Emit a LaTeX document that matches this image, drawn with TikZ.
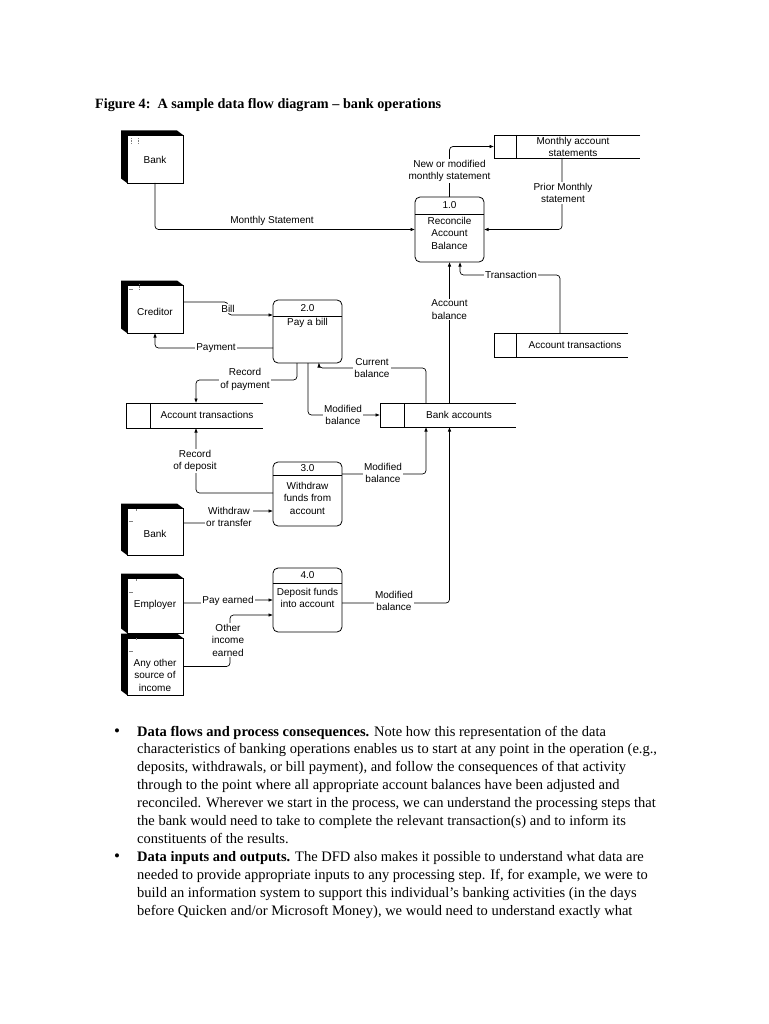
\documentclass[tikz,border=0pt]{standalone}
\usepackage{fontspec}
\setmainfont{Liberation Serif}
\newfontfamily\dfdfont{Liberation Sans}
\usetikzlibrary{arrows.meta,calc}
\newcommand\mkentity[4]{% name, cx, cy, height
  \node[entbox, minimum height=#4pt] (#1) at (#2,#3) {};
  \fill (#1.south west) -- (#1.north west) -- (#1.north east) -- ($(#1.north east)+(-6,-4.5)$) -- ($(#1.north west)+(-6,-4.5)$) -- ($(#1.south west)+(-6,-4.5)$) -- cycle;
  \draw[line width=0.8pt] (#1.south west) rectangle (#1.north east);
}
\newcommand\mkstore[6]{% name, cx, cy, w, h, divider offset
  \node[inner sep=0pt, outer sep=0pt, minimum width=#4pt, minimum height=#5pt] (#1) at (#2,#3) {};
  \draw[line width=0.8pt] (#1.north east) -- (#1.north west) -- (#1.south west) -- (#1.south east);
  \draw[line width=0.8pt] ([xshift=#6pt]#1.north west) -- ([xshift=#6pt]#1.south west);
}
\newcommand\mkproc[5]{% name, cx, cy, height, header offset
  \node[procbox, minimum height=#4pt] (#1) at (#2,#3) {};
  \draw[line width=0.8pt] ([yshift=-#5pt]#1.north west) -- ([yshift=-#5pt]#1.north east);
}
\begin{document}
\begin{tikzpicture}[x=1pt,y=-1pt,
  flow/.style={line width=0.7pt, rounded corners=3.5pt, -{Latex[length=4.5pt,width=3.6pt]}},
  lbl/.style={font=\dfdfont\fontsize{10}{12.5}\selectfont, fill=white, inner sep=1pt, align=center},
  txt/.style={font=\dfdfont\fontsize{10}{12.5}\selectfont, inner sep=0pt, align=center},
  procbox/.style={draw, line width=0.8pt, rounded corners=5pt, minimum width=69pt, inner sep=0pt, outer sep=0pt},
  entbox/.style={draw, line width=0.8pt, fill=white, minimum width=56pt, inner sep=0pt, outer sep=0pt},
  body/.style={font=\fontsize{14.5}{17.5}\selectfont, anchor=base west, inner sep=0pt},
  tinymark/.style={line width=0.4pt, gray}
]
\fill[white] (0,0) rectangle (768,1024);
\useasboundingbox (0,0) rectangle (768,1024);

% title
\node[anchor=base west, inner sep=0pt, font=\bfseries\fontsize{14.2}{16}\selectfont] (title) at (95,108.5)
  {Figure 4:\ \ A sample data flow diagram -- bank operations};

% external entities
\mkentity{E1}{155}{159}{48}
\mkentity{E2}{155}{309}{48}
\mkentity{E3}{155}{531.5}{47}
\mkentity{E4}{155}{605.5}{55}
\mkentity{E5}{155}{666.5}{57}
\node[txt] (E1t) at (155,160) {Bank};
\node[txt] (E2t) at (155,312) {Creditor};
\node[txt] (E3t) at (155,534) {Bank};
\node[txt] (E4t) at (155,605) {Employer};
\node[txt] (E5t) at (155,675) {Any other\\source of\\income};
% small marks in entity boxes
\draw[tinymark, dash pattern=on 0.8pt off 0.8pt] (131,138) -- (131,144) (138,138) -- (138,144);
\draw[tinymark] (129,289) -- (133,289);
\draw[tinymark, dash pattern=on 0.8pt off 0.8pt] (139,284) -- (139,289);
\draw[tinymark] (129,521) -- (133,521) (136,509) -- (136,511);
\draw[tinymark] (129,592) -- (133,592) (136,579) -- (136,581);
\draw[tinymark] (129,651) -- (133,651) (136,638) -- (136,640);

% data stores
\mkstore{MAS}{567}{146.5}{146}{23}{22}
\mkstore{ATR}{561}{345}{134}{24}{22}
\mkstore{BA}{448}{415}{136}{24}{24}
\mkstore{ATL}{194.5}{415.5}{137}{25}{24}
\node[txt] (MASt) at (573,147) {Monthly account\\statements};
\node[txt] (ATRt) at (575,345) {Account transactions};
\node[txt] (BAt) at (459,415) {Bank accounts};
\node[txt] (ATLt) at (207,415) {Account transactions};

% processes
\mkproc{P1}{449.5}{229.5}{65}{17}
\mkproc{P2}{307.5}{331.5}{63}{16}
\mkproc{P3}{307.5}{494}{64}{13}
\mkproc{P4}{307.5}{600}{64}{15}
\node[txt] (P1n) at (449.5,205.5) {1.0};
\node[txt] (P1t) at (449.5,233) {Reconcile\\Account\\Balance};
\node[txt] (P2n) at (307.5,308) {2.0};
\node[txt] (P2t) at (307.5,323) {Pay a bill};
\node[txt] (P3n) at (307.5,468.5) {3.0};
\node[txt] (P3t) at (307.5,498) {Withdraw\\funds from\\account};
\node[txt] (P4n) at (307.5,575.5) {4.0};
\node[txt] (P4t) at (307.5,598) {Deposit funds\\into account};

% flows
\draw[flow] (E1.south) |- (P1.west);
\node[txt] (l1) at (272,221) {Monthly Statement};

\draw[flow] (P1.north) |- (MAS.west);
\node[lbl] (l2) at (449.5,171) {New or modified\\monthly statement};

\draw[flow] ([xshift=-5pt]MAS.south) |- (P1.east);
\node[lbl] (l3) at (563,193) {Prior Monthly\\statement};

\draw[flow] ([xshift=-1pt]ATR.north) |- ([xshift=10.5pt,yshift=-13pt]P1.south) -- ([xshift=10.5pt]P1.south);
\node[lbl] (l4) at (511,275) {Transaction};

\draw[flow] (BA.north -| P1.south) -- (P1.south);
\node[lbl] (l5) at (449.5,309.5) {Account\\balance};

\draw[flow] ([yshift=7pt]E2.east) -| ([xshift=-45pt,yshift=16.5pt]P2.west) -- ([yshift=16.5pt]P2.west);
\node[lbl] (l6) at (228,308.5) {Bill};

\draw[flow] ([yshift=-16.5pt]P2.west) -| (E2.south);
\node[lbl] (l7) at (216,348) {Payment};

\draw[flow] ([xshift=-10.5pt]P2.south) |- ([xshift=1.5pt,yshift=23pt]ATL.north) -- ([xshift=1.5pt]ATL.north);
\node[lbl] (l8) at (245,379.5) {Record\\of payment};

\draw[flow] ([xshift=0.5pt]P2.south) |- (BA.west);
\node[lbl] (l9) at (343,415) {Modified\\balance};

\draw[flow] ([xshift=-22pt]BA.north) |- ([xshift=11.5pt,yshift=-5pt]P2.south) -- ([xshift=11.5pt]P2.south);
\node[lbl] (l10) at (372,368) {Current\\balance};

\draw[flow] ([yshift=1pt]P3.west) -| ([xshift=1.5pt]ATL.south);
\node[lbl] (l11) at (195,461) {Record\\of deposit};

\draw[flow] ([yshift=20pt]P3.east) -| ([xshift=-22pt]BA.south);
\node[lbl] (l12) at (383,473) {Modified\\balance};

\draw[flow] ([yshift=8.5pt]E3.east) -| ([xshift=-43pt,yshift=-17pt]P3.west) -- ([yshift=-17pt]P3.west);
\node[lbl] (l13) at (229,517) {Withdraw\\or transfer};

\draw[flow] ([yshift=2.5pt]E4.east) -| ([xshift=-45pt]P4.west) -- (P4.west);
\node[lbl] (l14) at (228,601) {Pay earned};

\draw[flow] (E5.east) -| ([xshift=-43pt,yshift=-15pt]P4.west) -- ([yshift=-15pt]P4.west);
\node[lbl] (l15) at (228,640) {Other\\income\\earned};

\draw[flow] ([yshift=-3pt]P4.east) -| ([xshift=1.5pt]BA.south);
\node[lbl] (l16) at (394,601) {Modified\\balance};

% body text
\node[body, anchor=base, font=\fontsize{17}{17.5}\selectfont] (bu1) at (117,736) {\textbullet};
\node[body] (t1) at (137,736) {\textbf{Data flows and process consequences.} Note how this representation of the data};
\node[body] (t2) at (137,753.9) {characteristics of banking operations enables us to start at any point in the operation (e.g.,};
\node[body] (t3) at (137,771.8) {deposits, withdrawals, or bill payment), and follow the consequences of that activity};
\node[body] (t4) at (137,789.7) {through to the point where all appropriate account balances have been adjusted and};
\node[body] (t5) at (137,807.6) {reconciled. Wherever we start in the process, we can understand the processing steps that};
\node[body] (t6) at (137,825.5) {the bank would need to take to complete the relevant transaction(s) and to inform its};
\node[body] (t7) at (137,843.4) {constituents of the results.};
\node[body, anchor=base, font=\fontsize{17}{17.5}\selectfont] (bu2) at (117,861.5) {\textbullet};
\node[body] (t8) at (137,861.5) {\textbf{Data inputs and outputs.} The DFD also makes it possible to understand what data are};
\node[body] (t9) at (137,879.5) {needed to provide appropriate inputs to any processing step. If, for example, we were to};
\node[body] (t10) at (137,897.5) {build an information system to support this individual's banking activities (in the days};
\node[body] (t11) at (137,915.5) {before Quicken and/or Microsoft Money), we would need to understand exactly what};
\end{tikzpicture}
\end{document}
